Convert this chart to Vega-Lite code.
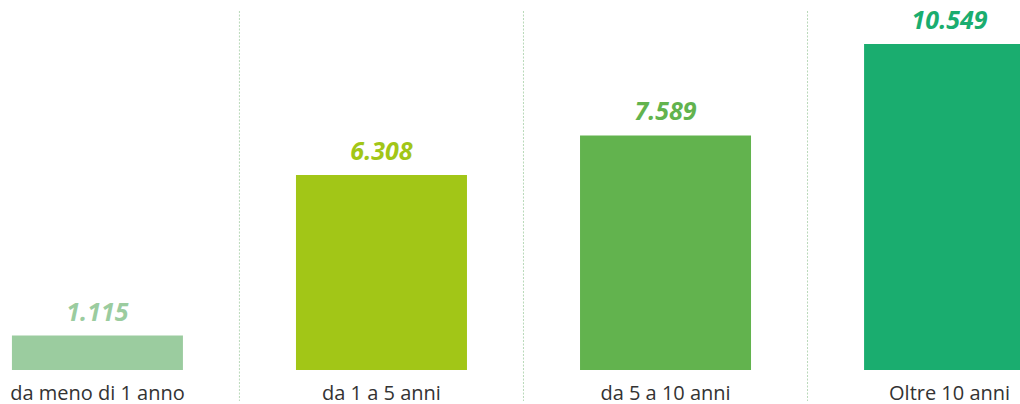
{
  "$schema": "https://vega.github.io/schema/vega-lite/v6.json",
  "width": 1020,
  "height": 390,
  "autosize": {"type": "none"},
  "padding": {"top": 11, "left": 0, "right": 0, "bottom": 3},
  "background": "white",
  "config": {
    "view": {"stroke": null},
    "locale": {"number": {"decimal": ",", "thousands": ".", "grouping": [3], "currency": ["", " €"]}}
  },
  "data": {
    "values": [
      {"categoria": "da meno di 1 anno", "valore": 1115},
      {"categoria": "da 1 a 5 anni", "valore": 6308},
      {"categoria": "da 5 a 10 anni", "valore": 7589},
      {"categoria": "Oltre 10 anni", "valore": 10549}
    ]
  },
  "encoding": {
    "x": {
      "field": "categoria",
      "type": "nominal",
      "sort": null,
      "scale": {"range": [0, 1047], "paddingInner": 0.398, "paddingOuter": 0.042},
      "axis": {
        "title": null,
        "orient": "bottom",
        "offset": -31,
        "domain": false,
        "ticks": false,
        "labelAngle": 0,
        "labelPadding": 13,
        "labelFont": "Open Sans",
        "labelFontSize": 20,
        "labelColor": "#333333"
      }
    }
  },
  "layer": [
    {
      "transform": [{"filter": "datum.categoria !== 'Oltre 10 anni'"}],
      "mark": {"type": "rule", "strokeDash": [2, 1.5], "strokeWidth": 1, "color": "#b9d9b9"},
      "encoding": {
        "x": {"field": "categoria", "type": "nominal", "sort": null, "bandPosition": 1.3304}
      }
    },
    {
      "mark": {"type": "bar"},
      "encoding": {
        "y": {
          "field": "valore",
          "type": "quantitative",
          "scale": {"domain": [-1003, 11617], "nice": false, "zero": false},
          "axis": null
        },
        "y2": {"datum": 0},
        "color": {
          "field": "categoria",
          "type": "nominal",
          "scale": {
            "domain": ["da meno di 1 anno", "da 1 a 5 anni", "da 5 a 10 anni", "Oltre 10 anni"],
            "range": ["#9bcc9f", "#a2c617", "#62b34e", "#1aad6f"]
          },
          "legend": null
        }
      }
    },
    {
      "mark": {
        "type": "text",
        "dy": -15,
        "baseline": "alphabetic",
        "font": "Open Sans",
        "fontSize": 25,
        "fontWeight": "bold",
        "fontStyle": "italic"
      },
      "encoding": {
        "y": {"field": "valore", "type": "quantitative"},
        "text": {"field": "valore", "type": "quantitative", "format": ",d"},
        "color": {"field": "categoria", "type": "nominal", "legend": null}
      }
    }
  ]
}
